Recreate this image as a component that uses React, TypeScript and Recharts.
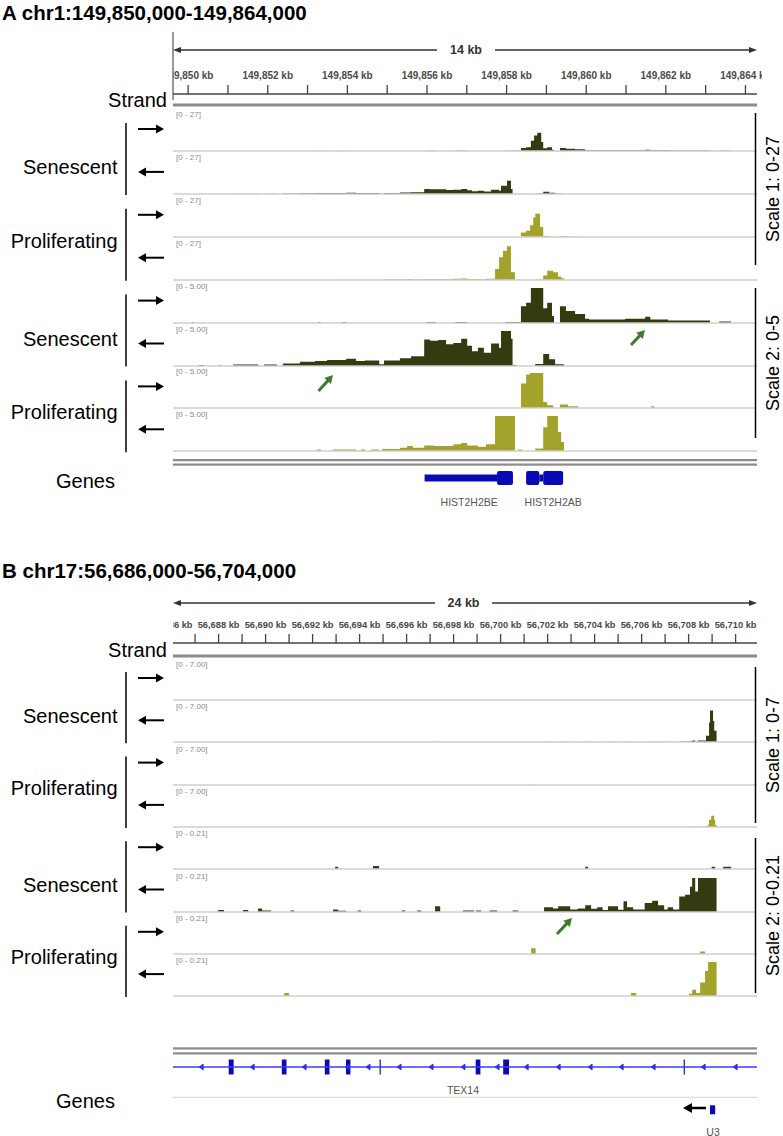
import React from "react";
import {
  AreaChart,
  Area,
  ComposedChart,
  XAxis,
  YAxis,
  ReferenceLine,
  ReferenceArea,
  Scatter,
} from "recharts";

const FONT = '"Liberation Sans", Arial, Helvetica, sans-serif';
const PLOT_LEFT = 173;
const PLOT_W = 584;
const SEN = "#363a10";
const PRO = "#a3a32c";
const GENE = "#0a0ab4";

// ---------- panel A : chr1 ----------
const titleA = "A chr1:149,850,000-149,864,000";
const spanA = "14 kb";
const domainA: [number, number] = [149849.62, 149864.29];
const ticksA = [
  149850, 149851, 149852, 149853, 149854, 149855, 149856, 149857, 149858,
  149859, 149860, 149861, 149862, 149863, 149864,
];
const scaleMaxA = [27, 5];
const scaleLabelsA = ["[0 - 27]", "[0 - 5.00]"];
const scaleTitlesA = ["Scale 1: 0-27", "Scale 2: 0-5"];

// coverage, [position kb, value] (step starts)
const senFwdA = [
  [149850.1, 0.1], [149850.16, 0],
  [149853.27, 0.15], [149853.33, 0],
  [149853.88, 0.15], [149853.98, 0],
  [149855.98, 0.15], [149856.23, 0],
  [149856.71, 0.15], [149857.01, 0],
  [149857.96, 0.15], [149858.36, 2.4], [149858.49, 2.9], [149858.61, 8],
  [149858.69, 12], [149858.77, 14], [149858.87, 7], [149858.92, 2.1],
  [149859.02, 2.9], [149859.14, 1.0], [149859.19, 0],
  [149859.34, 2.4], [149859.49, 1.7], [149859.72, 1.3], [149859.97, 0.6],
  [149860.07, 0.5], [149860.98, 0.6], [149861.48, 0.9], [149861.61, 0.5],
  [149862.06, 0.35], [149863.11, 0],
  [149863.34, 0.2], [149863.64, 0],
];
const senRevA = [
  [149850.27, 0.15], [149850.4, 0],
  [149850.78, 0.1], [149850.84, 0],
  [149851.13, 0.2], [149851.76, 0],
  [149851.91, 0.2], [149852.23, 0],
  [149852.38, 0.35], [149852.81, 0.6], [149853.19, 0.7], [149853.49, 0.85],
  [149853.97, 1.05], [149854.22, 0.7], [149854.44, 0.8], [149854.8, 0.25],
  [149854.92, 0.8], [149855.32, 1.1], [149855.6, 1.4], [149855.93, 3.8],
  [149856.08, 3.6], [149856.28, 3.7], [149856.48, 3.1], [149856.66, 3.3],
  [149856.86, 3.9], [149857.01, 2.9], [149857.13, 2.1], [149857.28, 2.6],
  [149857.43, 1.9], [149857.61, 3.2], [149857.81, 2.6], [149857.86, 6.4],
  [149858.01, 10.3], [149858.11, 3.9], [149858.15, 0.15], [149858.24, 0],
  [149858.72, 0.3], [149858.92, 1.7], [149859.07, 0.95], [149859.22, 0.25],
  [149859.44, 0],
];
const proFwdA = [
  [149858.36, 3.5], [149858.49, 4.8], [149858.59, 9], [149858.67, 15],
  [149858.72, 18], [149858.84, 7.7], [149858.92, 0.85], [149859.02, 0.4],
  [149859.17, 0],
  [149859.34, 0.5], [149859.54, 0.25], [149859.8, 0],
  [149861.63, 0.25], [149861.71, 0],
];
const proRevA = [
  [149853.24, 0.2], [149853.34, 0],
  [149853.64, 0.2], [149854.22, 0],
  [149854.34, 0.2], [149854.44, 0],
  [149854.6, 0.2], [149854.8, 0],
  [149854.87, 0.3], [149855.32, 0.45], [149855.5, 0.7], [149855.65, 0.45],
  [149855.93, 0.8], [149856.18, 0.7], [149856.66, 0.95], [149856.86, 1.15],
  [149857.01, 0.8], [149857.28, 0.6], [149857.48, 0.95], [149857.71, 8.5],
  [149857.81, 17.5], [149857.91, 22.6], [149858.01, 26], [149858.11, 5.9],
  [149858.21, 0],
  [149858.29, 0.2], [149858.39, 0],
  [149858.72, 0.35], [149858.92, 3.4], [149859.02, 7.2], [149859.17, 5.9],
  [149859.29, 2.7], [149859.37, 1.3], [149859.44, 0],
];

// genes A: [start kb, end kb]
const utrA = [[149855.94, 149857.76], [149858.82, 149858.92]];
const cdsA = [[149857.76, 149858.16], [149858.49, 149858.82], [149858.92, 149859.42]];
const geneNamesA = [
  { name: "HIST2H2BE", x: 149857.06 },
  { name: "HIST2H2AB", x: 149859.17 },
];

// ---------- panel B : chr17 ----------
const titleB = "B chr17:56,686,000-56,704,000";
const spanB = "24 kb";
const domainB: [number, number] = [56686.06, 56710.91];
const ticksB = [
  56686, 56687, 56688, 56689, 56690, 56691, 56692, 56693, 56694, 56695, 56696,
  56697, 56698, 56699, 56700, 56701, 56702, 56703, 56704, 56705, 56706, 56707,
  56708, 56709, 56710,
];
const scaleMaxB = [7, 0.21];
const scaleLabelsB = ["[0 - 7.00]", "[0 - 0.21]"];
const scaleTitlesB = ["Scale 1: 0-7", "Scale 2: 0-0.21"];

const senFwdB = [
  [56692.96, 0.014], [56693.09, 0],
  [56694.57, 0.018], [56694.83, 0],
  [56703.6, 0.014], [56703.72, 0],
  [56708.98, 0.014], [56709.13, 0],
  [56709.47, 0.014], [56709.81, 0],
];
const senRevB = [
  [56687.98, 0.012], [56688.23, 0],
  [56689.04, 0.012], [56689.26, 0],
  [56689.68, 0.022], [56689.85, 0.01], [56690.23, 0],
  [56691.06, 0.01], [56691.21, 0],
  [56692.87, 0.016], [56693.09, 0.008], [56693.43, 0],
  [56693.92, 0.01], [56694.06, 0],
  [56695.79, 0.01], [56695.94, 0],
  [56696.45, 0.01], [56696.62, 0],
  [56697.21, 0.036], [56697.43, 0],
  [56698.4, 0.01], [56698.87, 0],
  [56698.96, 0.01], [56699.17, 0],
  [56699.53, 0.01], [56699.85, 0],
  [56700.51, 0.01], [56700.75, 0],
  [56701.85, 0.03], [56702.23, 0.022], [56702.45, 0.036], [56702.96, 0.016],
  [56703.28, 0.022], [56703.6, 0.042], [56703.85, 0.02], [56704.11, 0.03],
  [56704.34, 0.012], [56704.57, 0.036], [56705.0, 0.014], [56705.23, 0.066],
  [56705.38, 0.03], [56705.64, 0.016], [56706.13, 0.056], [56706.45, 0.07],
  [56706.7, 0.042], [56706.96, 0.016], [56707.11, 0.03], [56707.34, 0.016],
  [56707.6, 0.096], [56707.85, 0.106], [56708.06, 0.156], [56708.15, 0.3],
  [56708.28, 0.126], [56708.4, 0.33], [56708.74, 1.3], [56708.87, 4],
  [56708.91, 6.5], [56709.04, 4.3], [56709.09, 2.3], [56709.19, 0],
];
const proFwdB = [
  [56701.3, 0.036], [56701.49, 0],
  [56708.49, 0.016], [56708.7, 0],
];
const proRevB = [
  [56690.79, 0.018], [56691.0, 0],
  [56705.55, 0.018], [56705.77, 0],
  [56708.02, 0.014], [56708.15, 0.038], [56708.32, 0.018], [56708.49, 0.084],
  [56708.7, 0.154], [56708.83, 0.5], [56708.87, 1.5], [56708.96, 2.3],
  [56709.09, 1.5], [56709.13, 0.4], [56709.19, 0],
];

// genes B
const bigExonsB = [
  [56688.43, 56688.64], [56690.69, 56690.89], [56692.52, 56692.72],
  [56693.42, 56693.61], [56698.94, 56699.14], [56700.11, 56700.36],
];
const thinExonsB = [[56694.85, 56694.9], [56707.79, 56707.84]];
const chevronsB = [
  56687.26, 56689.43, 56691.64, 56693.47, 56694.36, 56695.68, 56697.04,
  56698.4, 56699.85, 56701.09, 56702.45, 56703.81, 56705.13, 56706.49,
  56708.62, 56709.98,
];
const u3ExonB = [[56708.91, 56709.13]];
const geneNamesB = [
  { name: "TEX14", x: 56698.4, row: 0 },
  { name: "U3", x: 56709.04, row: 1 },
];

const groupNames = ["Senescent", "Proliferating", "Senescent", "Proliferating"];

function Track({ data, max, color, base, h, domain, label }: any) {
  const rows = data.map(([x, v]: number[]) => ({ x, v }));
  const top = base - h - 8;
  return (
    <div style={{ position: "absolute", left: PLOT_LEFT, top, width: PLOT_W, height: h + 9 }}>
      <AreaChart
        width={PLOT_W}
        height={h + 9}
        data={rows}
        margin={{ top: 8, right: 0, bottom: 1, left: 0 }}
      >
        <XAxis type="number" dataKey="x" domain={domain} hide allowDataOverflow />
        <YAxis type="number" domain={[0, max]} hide allowDataOverflow />
        <ReferenceLine y={0} stroke="#cfcfcf" strokeWidth={1.3} />
        <Area
          type="stepAfter"
          dataKey="v"
          stroke="none"
          fill={color}
          fillOpacity={1}
          baseValue={0}
          isAnimationActive={false}
        />
      </AreaChart>
      <div
        style={{
          position: "absolute",
          left: 3,
          top: 2,
          fontSize: 8,
          lineHeight: "9px",
          color: "#8a8a8a",
          fontFamily: FONT,
          whiteSpace: "nowrap",
        }}
      >
        {label}
      </div>
    </div>
  );
}

function Ruler({ domain, ticks, axisY, fontSize, clipW }: any) {
  return (
    <div
      style={{
        position: "absolute",
        left: PLOT_LEFT,
        top: axisY - 30,
        width: clipW,
        height: 32,
        overflow: "hidden",
      }}
    >
      <ComposedChart
        width={PLOT_W + 20}
        height={32}
        data={domain.map((x: number) => ({ x }))}
        margin={{ top: 0, right: 20, bottom: 0, left: 0 }}
      >
        <XAxis
          type="number"
          dataKey="x"
          orientation="top"
          height={30}
          domain={domain}
          ticks={ticks}
          interval={0}
          allowDataOverflow
          tickSize={9}
          tickMargin={6}
          axisLine={{ stroke: "#444", strokeWidth: 1.3 }}
          tickLine={{ stroke: "#444", strokeWidth: 1.3 }}
          tick={{ fontSize, fontWeight: 700, fill: "#4a4a4a", fontFamily: FONT }}
          tickFormatter={(v: number) =>
            v % 2 === 0 ? `${v.toLocaleString("en-US")} kb` : ""
          }
        />
        <YAxis hide domain={[0, 1]} />
      </ComposedChart>
    </div>
  );
}

const labelShape = (fs: number) => (p: any) => (
  <text
    x={p.cx}
    y={p.cy}
    textAnchor="middle"
    dominantBaseline="central"
    fontSize={fs}
    fill="#555"
    fontFamily={FONT}
  >
    {p.payload.name}
  </text>
);

function GenesA({ top }: { top: number }) {
  return (
    <div style={{ position: "absolute", left: PLOT_LEFT, top }}>
      <ComposedChart width={PLOT_W} height={60} margin={{ top: 0, right: 0, bottom: 0, left: 0 }}>
        <XAxis type="number" dataKey="x" domain={domainA} hide allowDataOverflow />
        <YAxis type="number" dataKey="y" domain={[-30, 30]} hide />
        {utrA.map(([a, b], i) => (
          <ReferenceArea key={"u" + i} x1={a} x2={b} y1={-3.5} y2={3.5} fill={GENE} fillOpacity={1} stroke="none" />
        ))}
        {cdsA.map(([a, b], i) => (
          <ReferenceArea key={"c" + i} x1={a} x2={b} y1={-7} y2={7} fill={GENE} fillOpacity={1} stroke="none" radius={2} />
        ))}
        <Scatter
          data={geneNamesA.map((g) => ({ ...g, y: -24 }))}
          shape={labelShape(10.5)}
          isAnimationActive={false}
        />
      </ComposedChart>
    </div>
  );
}

function GenesB({ top }: { top: number }) {
  const chev = (p: any) => (
    <path
      d={`M${p.cx + 2},${p.cy - 3} L${p.cx - 2},${p.cy} L${p.cx + 2},${p.cy + 3} Z`}
      fill="#2d2df0"
      stroke="#2d2df0"
      strokeWidth={0.8}
    />
  );
  return (
    <div style={{ position: "absolute", left: PLOT_LEFT, top }}>
      <ComposedChart width={PLOT_W} height={110} margin={{ top: 0, right: 0, bottom: 0, left: 0 }}>
        <XAxis type="number" dataKey="x" domain={domainB} hide allowDataOverflow />
        <YAxis type="number" dataKey="y" domain={[-80, 30]} hide />
        <ReferenceLine y={0} stroke="#3d3df2" strokeWidth={1.4} />
        <ReferenceLine y={-30.3} stroke="#dcdcdc" strokeWidth={1.3} />
        {bigExonsB.map(([a, b], i) => (
          <ReferenceArea key={"e" + i} x1={a} x2={b} y1={-7.5} y2={7.5} fill={GENE} fillOpacity={1} stroke="none" />
        ))}
        {thinExonsB.map(([a, b], i) => (
          <ReferenceArea key={"t" + i} x1={a} x2={b} y1={-7.5} y2={7.5} fill={GENE} fillOpacity={1} stroke="none" />
        ))}
        {u3ExonB.map(([a, b], i) => (
          <ReferenceArea key={"u" + i} x1={a} x2={b} y1={-47.3} y2={-38.3} fill={GENE} fillOpacity={1} stroke="none" />
        ))}
        <Scatter data={chevronsB.map((x) => ({ x, y: 0 }))} shape={chev} isAnimationActive={false} />
        <Scatter
          data={geneNamesB.map((g) => ({ ...g, y: g.row === 0 ? -23.3 : -65.3 }))}
          shape={labelShape(10.5)}
          isAnimationActive={false}
        />
      </ComposedChart>
    </div>
  );
}

function Arrow({ x1, y1, x2, y2, w, head, half, color }: any) {
  const dx = x2 - x1;
  const dy = y2 - y1;
  const len = Math.sqrt(dx * dx + dy * dy);
  const ux = dx / len;
  const uy = dy / len;
  const bx = x2 - ux * head;
  const by = y2 - uy * head;
  const px = -uy * half;
  const py = ux * half;
  return (
    <g>
      <line x1={x1} y1={y1} x2={bx + ux} y2={by + uy} stroke={color} strokeWidth={w} />
      <polygon points={`${x2},${y2} ${bx + px},${by + py} ${bx - px},${by - py}`} fill={color} />
    </g>
  );
}

function PanelDecor({
  title, titleY, span, spanY, gap, axisY, strandY, bases, scaleTitles, scaleSpans, genesY, doubleY,
}: any) {
  const items: any[] = [];
  items.push(
    <Arrow key="ra1" x1={gap[0]} y1={spanY} x2={PLOT_LEFT} y2={spanY} w={1.3} head={8} half={3} color="#333" />,
    <Arrow key="ra2" x1={gap[1]} y1={spanY} x2={PLOT_LEFT + PLOT_W} y2={spanY} w={1.3} head={8} half={3} color="#333" />,
    <text key="span" x={(gap[0] + gap[1]) / 2} y={spanY} textAnchor="middle" dominantBaseline="central" fontSize={12.5} fontWeight={700} fill="#333" fontFamily={FONT}>{span}</text>,
    <text key="title" x={2} y={titleY} dominantBaseline="central" fontSize={20.5} fontWeight={700} fill="#000" fontFamily={FONT}>{title}</text>,
    <rect key="strandbar" x={PLOT_LEFT} y={strandY - 1.5} width={PLOT_W} height={3} fill="#8c8c8c" />,
    <text key="strand" x={167} y={(axisY + strandY) / 2} textAnchor="end" dominantBaseline="central" fontSize={20} fill="#000" fontFamily={FONT}>Strand</text>,
    <text key="genes" x={115} y={genesY} textAnchor="end" dominantBaseline="central" fontSize={20} fill="#000" fontFamily={FONT}>Genes</text>,
    <rect key="d1" x={PLOT_LEFT} y={doubleY[0] - 1} width={PLOT_W} height={2.2} fill="#8c8c8c" />,
    <rect key="d2" x={PLOT_LEFT} y={doubleY[1] - 1} width={PLOT_W} height={2.2} fill="#8c8c8c" />,
  );
  for (let g = 0; g < 4; g++) {
    const y1 = bases[2 * g] - 28;
    const y2 = bases[2 * g + 1] + 1;
    const mid = (y1 + y2) / 2;
    items.push(
      <line key={"gl" + g} x1={126} y1={y1} x2={126} y2={y2} stroke="#000" strokeWidth={1.5} />,
      <text key={"gt" + g} x={117.5} y={groupNames[g] === "Senescent" ? mid + 8.5 : mid - 4} textAnchor="end" dominantBaseline="central" fontSize={20} fill="#000" fontFamily={FONT}>{groupNames[g]}</text>,
      <Arrow key={"af" + g} x1={138} y1={bases[2 * g] - 22} x2={164} y2={bases[2 * g] - 22} w={2} head={8} half={4.5} color="#000" />,
      <Arrow key={"ar" + g} x1={164} y1={bases[2 * g + 1] - 22} x2={138} y2={bases[2 * g + 1] - 22} w={2} head={8} half={4.5} color="#000" />,
    );
  }
  scaleSpans.forEach(([a, b]: number[], i: number) => {
    const c = (a + b) / 2;
    items.push(
      <line key={"sl" + i} x1={755.5} y1={a} x2={755.5} y2={b} stroke="#000" strokeWidth={1.5} />,
      <text key={"st" + i} x={773} y={c} transform={`rotate(-90 773 ${c})`} textAnchor="middle" dominantBaseline="central" fontSize={18} fill="#000" fontFamily={FONT}>{scaleTitles[i]}</text>,
    );
  });
  return <g>{items}</g>;
}

export default function App() {
  const baseA = Array.from({ length: 8 }, (_, i) => 151 + i * 42.9);
  const baseB = Array.from({ length: 8 }, (_, i) => 700 + i * 42.3);
  const tracksA = [senFwdA, senRevA, proFwdA, proRevA];
  const tracksB = [senFwdB, senRevB, proFwdB, proRevB];
  const green = "#3f7a2f";

  return (
    <div
      style={{
        position: "absolute",
        left: 0,
        top: 0,
        width: 783,
        height: 1136,
        background: "#fff",
        fontFamily: FONT,
        overflow: "hidden",
      }}
    >
      <Ruler domain={domainA} ticks={ticksA} axisY={94} fontSize={10} clipW={PLOT_W + 5} />
      <Ruler domain={domainB} ticks={ticksB} axisY={643} fontSize={9.3} clipW={PLOT_W + 1} />

      {scaleMaxA.map((max, s) =>
        tracksA.map((d, t) => (
          <Track
            key={`a${s}${t}`}
            data={d}
            max={max}
            color={t < 2 ? SEN : PRO}
            base={baseA[s * 4 + t]}
            h={35}
            domain={domainA}
            label={scaleLabelsA[s]}
          />
        ))
      )}
      {scaleMaxB.map((max, s) =>
        tracksB.map((d, t) => (
          <Track
            key={`b${s}${t}`}
            data={d}
            max={max}
            color={t < 2 ? SEN : PRO}
            base={baseB[s * 4 + t]}
            h={34}
            domain={domainB}
            label={scaleLabelsB[s]}
          />
        ))
      )}

      <GenesA top={448} />
      <GenesB top={1036.7} />

      <svg
        width={783}
        height={1136}
        style={{ position: "absolute", left: 0, top: 0, pointerEvents: "none" }}
      >
        <line x1={173} y1={32} x2={173} y2={100} stroke="#555" strokeWidth={1.2} />
        <PanelDecor
          title={titleA}
          titleY={12}
          span={spanA}
          spanY={50}
          gap={[437, 495]}
          axisY={94}
          strandY={105}
          bases={baseA}
          scaleTitles={scaleTitlesA}
          scaleSpans={[[113, 265], [288, 438]]}
          genesY={481}
          doubleY={[460, 464.5]}
        />
        <PanelDecor
          title={titleB}
          titleY={570}
          span={spanB}
          spanY={603}
          gap={[435, 492]}
          axisY={643}
          strandY={656}
          bases={baseB}
          scaleTitles={scaleTitlesB}
          scaleSpans={[[667, 823], [838, 993]]}
          genesY={1101}
          doubleY={[1048.3, 1053.3]}
        />
        <Arrow x1={631} y1={345} x2={645} y2={330} w={3} head={8} half={4.5} color={green} />
        <Arrow x1={318.5} y1={391} x2={333} y2={375} w={3} head={8} half={4.5} color={green} />
        <Arrow x1={557} y1={934} x2={572} y2={918} w={3} head={8} half={4.5} color={green} />
        <Arrow x1={706} y1={1108} x2={683} y2={1108} w={2.5} head={9} half={5} color="#000" />
      </svg>
    </div>
  );
}
